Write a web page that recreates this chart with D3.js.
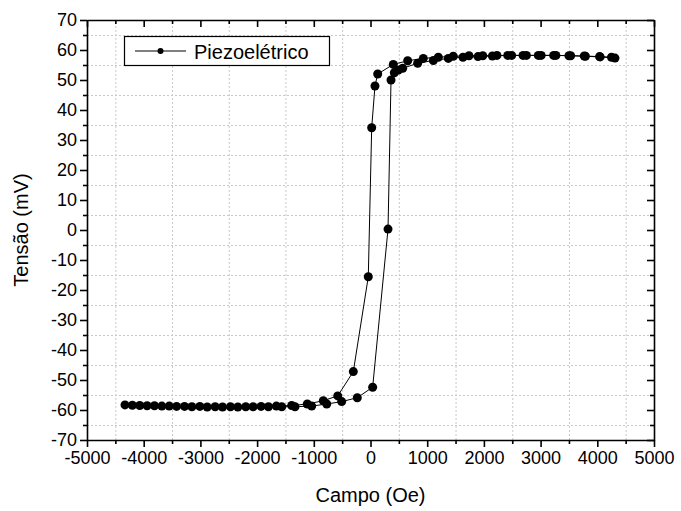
<!DOCTYPE html>
<html>
<head>
<meta charset="utf-8">
<script src="https://cdn.jsdelivr.net/npm/d3@7"></script>
<style>
  body { margin: 0; background: #fff; }
  svg text { font-family: "Liberation Sans", Arial, sans-serif; fill: #000; }
  .grid line { stroke: #c8c8c8; stroke-dasharray: 2,2; stroke-width: 1; }
  .grid path { display: none; }
  .axis path, .axis line { stroke: #000; stroke-width: 1.6; }
</style>
</head>
<body>
<div class="grafico"></div>
<script>
/* ramo descendente (de +H para -H) */
const campoDesc = [4312, 4050, 3790, 3530, 3270, 3010, 2750, 2490, 2230, 1980, 1737, 1460, 1196, 931, 656, 402, 127, 79, 21, -39, -303, -578, -832, -1115, -1390, -1660, -1930, -2200, -2470, -2740, -3010, -3280, -3550, -3810, -4070, -4330];
const tensaoDesc = [57.3, 57.7, 57.9, 58.1, 58.2, 58.2, 58.2, 58.2, 58.2, 58.1, 58.1, 57.9, 57.6, 57.2, 56.4, 55.2, 52.0, 48.0, 34.1, -15.6, -47.2, -55.3, -56.9, -58.0, -58.5, -58.7, -58.8, -58.9, -58.9, -58.9, -58.8, -58.8, -58.7, -58.6, -58.5, -58.3];
/* ramo ascendente (de -H para +H) */
const campoAsc = [-4200, -3940, -3680, -3420, -3150, -2880, -2610, -2340, -2070, -1800, -1566, -1332, -1037, -772, -508, -233, 38, 309, 362, 420, 490, 568, 832, 1108, 1372, 1631, 1896, 2150, 2420, 2690, 2960, 3230, 3500, 3770, 4040, 4250];
const tensaoAsc = [-58.4, -58.6, -58.7, -58.8, -58.9, -59.0, -59.0, -59.0, -58.9, -58.9, -58.9, -58.9, -58.7, -58.0, -57.2, -55.9, -52.4, 0.3, 50.0, 52.4, 53.3, 53.9, 55.6, 56.5, 57.2, 57.6, 57.8, 58.0, 58.2, 58.2, 58.2, 58.2, 58.1, 58.0, 57.8, 57.6];

const xTicks = [-5000, -4000, -3000, -2000, -1000, 0, 1000, 2000, 3000, 4000, 5000];
const yTicks = [-70, -60, -50, -40, -30, -20, -10, 0, 10, 20, 30, 40, 50, 60, 70];
const xMinor = [-4500, -3500, -2500, -1500, -500, 500, 1500, 2500, 3500, 4500];
const yMinor = [-65, -55, -45, -35, -25, -15, -5, 5, 15, 25, 35, 45, 55, 65];
const serieNome = 'Piezoelétrico';

const graph = () => {
  const w = 681;
  const h = 511;
  const left = 87, right = 654, top = 20, bottom = 440;

  const campo = campoDesc.concat(campoAsc);
  const tensao = tensaoDesc.concat(tensaoAsc);
  const data = campo.map((c, i) => [c, tensao[i]]);

  const xScale = d3.scaleLinear().domain([-5000, 5000]).range([left, right]);
  const yScale = d3.scaleLinear().domain([-70, 70]).range([bottom, top]);

  const svg = d3.select('.grafico')
    .append('svg')
    .attr('width', w)
    .attr('height', h)
    .style('display', 'block');

  svg.append('rect').attr('width', w).attr('height', h).attr('fill', '#fff');

  /*Grade nas posições secundárias*/
  svg.append('g')
    .attr('class', 'grid')
    .attr('transform', `translate(0,${bottom})`)
    .call(d3.axisBottom(xScale).tickValues(xMinor).tickSize(-(bottom - top)).tickFormat(''));
  svg.append('g')
    .attr('class', 'grid')
    .attr('transform', `translate(${left},0)`)
    .call(d3.axisLeft(yScale).tickValues(yMinor).tickSize(-(right - left)).tickFormat(''));

  /*Eixos*/
  const fmt = d => d;
  svg.append('g').attr('class', 'axis')
    .attr('transform', `translate(0,${bottom})`)
    .call(d3.axisBottom(xScale).tickValues(xTicks).tickSize(7).tickPadding(4).tickSizeOuter(0).tickFormat(fmt))
    .call(g => g.selectAll('text').style('font-size', '18px'));
  svg.append('g').attr('class', 'axis')
    .attr('transform', `translate(0,${bottom})`)
    .call(d3.axisBottom(xScale).tickValues(xMinor).tickSize(4).tickSizeOuter(0).tickFormat(''))
    .call(g => g.select('.domain').remove());

  svg.append('g').attr('class', 'axis')
    .attr('transform', `translate(${left},0)`)
    .call(d3.axisLeft(yScale).tickValues(yTicks).tickSize(7).tickPadding(3).tickSizeOuter(0).tickFormat(fmt))
    .call(g => g.selectAll('text').style('font-size', '18px'));
  svg.append('g').attr('class', 'axis')
    .attr('transform', `translate(${left},0)`)
    .call(d3.axisLeft(yScale).tickValues(yMinor).tickSize(4).tickSizeOuter(0).tickFormat(''))
    .call(g => g.select('.domain').remove());

  /*Eixos espelhados (topo e direita, marcas para dentro)*/
  svg.append('g').attr('class', 'axis')
    .attr('transform', `translate(0,${top})`)
    .call(d3.axisTop(xScale).tickValues(xTicks).tickSize(-7).tickSizeOuter(0).tickFormat(''));
  svg.append('g').attr('class', 'axis')
    .attr('transform', `translate(0,${top})`)
    .call(d3.axisTop(xScale).tickValues(xMinor).tickSize(-4).tickSizeOuter(0).tickFormat(''))
    .call(g => g.select('.domain').remove());
  svg.append('g').attr('class', 'axis')
    .attr('transform', `translate(${right},0)`)
    .call(d3.axisRight(yScale).tickValues(yTicks).tickSize(-7).tickSizeOuter(0).tickFormat(''));
  svg.append('g').attr('class', 'axis')
    .attr('transform', `translate(${right},0)`)
    .call(d3.axisRight(yScale).tickValues(yMinor).tickSize(-4).tickSizeOuter(0).tickFormat(''))
    .call(g => g.select('.domain').remove());

  /*Títulos dos eixos*/
  svg.append('text')
    .attr('x', (left + right) / 2)
    .attr('y', 502)
    .attr('text-anchor', 'middle')
    .style('font-size', '20px')
    .text('Campo (Oe)');
  svg.append('text')
    .attr('transform', `translate(28,${(top + bottom) / 2}) rotate(-90)`)
    .attr('text-anchor', 'middle')
    .style('font-size', '20px')
    .text('Tensão (mV)');

  /*Linha e pontos*/
  const line = d3.line().x(d => xScale(d[0])).y(d => yScale(d[1]));
  svg.append('path')
    .datum(data)
    .attr('d', line)
    .attr('fill', 'none')
    .attr('stroke', '#000')
    .attr('stroke-width', 1);

  svg.selectAll('circle.pt')
    .data(data)
    .enter()
    .append('circle')
    .attr('class', 'pt')
    .attr('cx', d => xScale(d[0]))
    .attr('cy', d => yScale(d[1]))
    .attr('r', 4.5)
    .attr('fill', '#000');

  /*Legenda*/
  const leg = svg.append('g');
  leg.append('rect')
    .attr('x', 124.5).attr('y', 36.5)
    .attr('width', 205).attr('height', 29)
    .attr('fill', '#fff').attr('stroke', '#000').attr('stroke-width', 1.2);
  leg.append('line')
    .attr('x1', 135).attr('x2', 186).attr('y1', 51).attr('y2', 51)
    .attr('stroke', '#000').attr('stroke-width', 1);
  leg.append('circle')
    .attr('cx', 160.5).attr('cy', 51).attr('r', 3).attr('fill', '#000');
  leg.append('text')
    .attr('x', 194).attr('y', 58.5)
    .style('font-size', '20px')
    .text(serieNome);
};

graph();
</script>
</body>
</html>
